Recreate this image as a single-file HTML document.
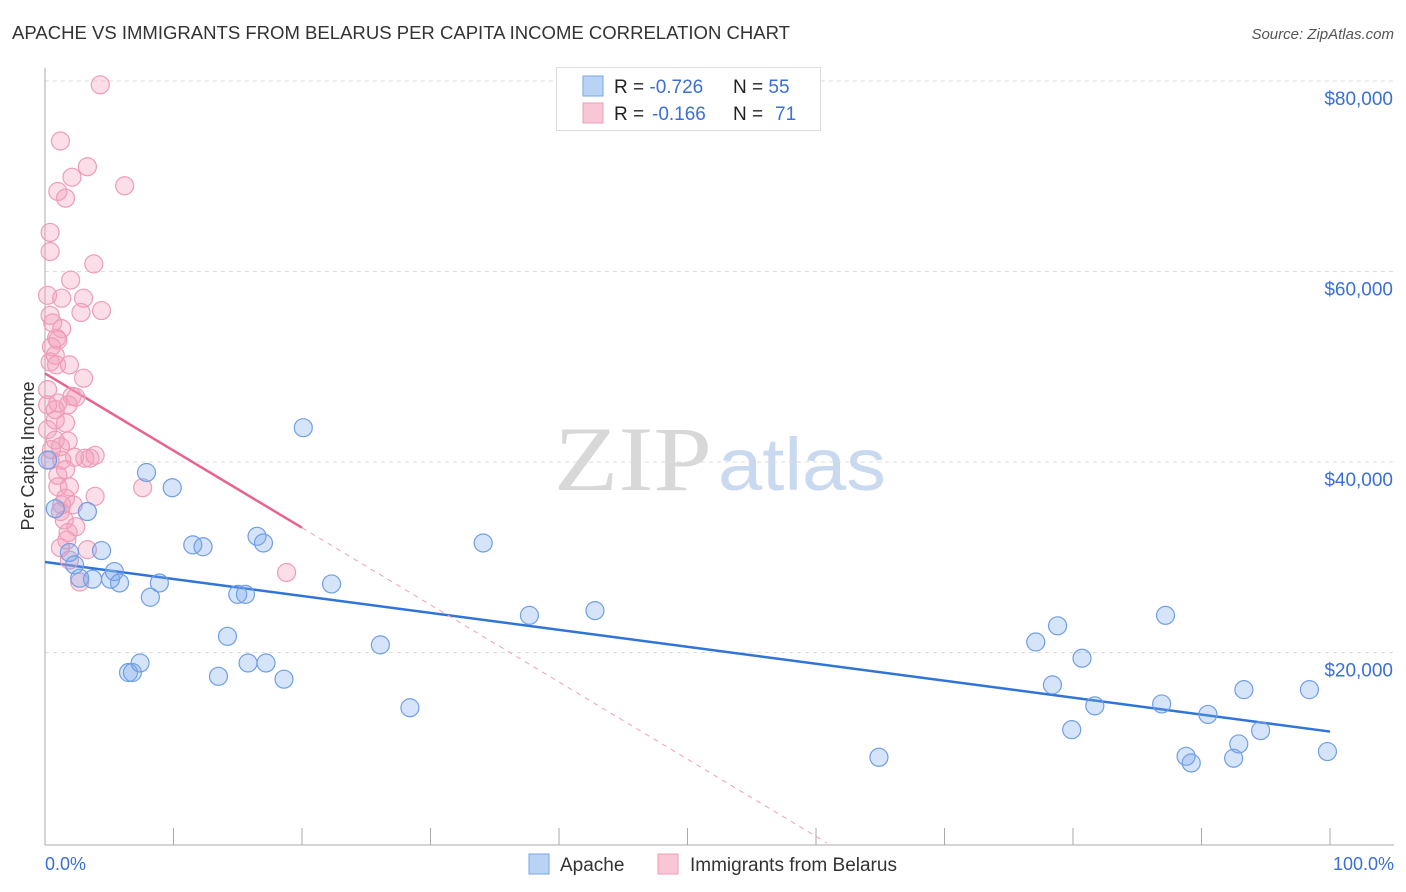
<!DOCTYPE html>
<html><head><meta charset="utf-8"><style>
body{margin:0;background:#fff;font-family:"Liberation Sans",sans-serif;}
#wrap{position:relative;width:1406px;height:892px;overflow:hidden;}
</style></head><body>
<div id="wrap">
<svg id="chart" width="1406" height="892" xmlns="http://www.w3.org/2000/svg">
<text x="12" y="39" font-size="18" fill="#333" textLength="778" lengthAdjust="spacingAndGlyphs">APACHE VS IMMIGRANTS FROM BELARUS PER CAPITA INCOME CORRELATION CHART</text>
<text x="1394" y="39" font-size="15" fill="#555" font-style="italic" text-anchor="end">Source: ZipAtlas.com</text>
<text x="712" y="490" font-size="92" fill="#d8d8d8" text-anchor="end" font-family="Liberation Serif,serif" textLength="158" lengthAdjust="spacingAndGlyphs">ZIP</text>
<text x="718" y="490" font-size="74" fill="#c9d9ef" textLength="168" lengthAdjust="spacingAndGlyphs">atlas</text>
<g id="grid"></g><g id="axes"></g><g id="trend"></g><g id="pts"></g>
<text transform="translate(34,456) rotate(-90)" font-size="18" fill="#333" text-anchor="middle">Per Capita Income</text>
<text x="45" y="870" font-size="18" fill="#3a6fd8">0.0%</text>
<text x="1394" y="870" font-size="18" fill="#3a6fd8" text-anchor="end">100.0%</text>
<g>
<rect x="556.5" y="67.5" width="264" height="63" fill="#fff" stroke="#ddd"/>
<rect x="583" y="76" width="20" height="20" fill="#b9d3f5" stroke="#7aa4e6"/>
<rect x="583" y="103" width="20" height="20" fill="#f9c6d6" stroke="#ee9cb8"/>
<text x="614" y="93" font-size="19" fill="#222">R = <tspan fill="#3a6fd8">-0.726</tspan><tspan x="733">N = </tspan><tspan fill="#3a6fd8">55</tspan></text>
<text x="614" y="120" font-size="19" fill="#222">R = <tspan x="652" fill="#3a6fd8">-0.166</tspan><tspan x="733">N = </tspan><tspan x="775" fill="#3a6fd8">71</tspan></text>
</g>
<g>
<rect x="529" y="854" width="20" height="20" fill="#b9d3f5" stroke="#7aa4e6"/>
<text x="560" y="871" font-size="19" fill="#333">Apache</text>
<rect x="658" y="854" width="20" height="20" fill="#f9c6d6" stroke="#ee9cb8"/>
<text x="690" y="871" font-size="19" fill="#333">Immigrants from Belarus</text>
</g>
</svg>
</div>
<script>
const yTicks=[20000,40000,60000,80000];
const yTickLabels=["$20,000","$40,000","$60,000","$80,000"];
const apacheX=[0.2,0.8,3.3,4.4,1.9,2.3,2.7,3.7,5.1,5.4,5.8,7.9,9.9,8.2,8.9,11.5,12.3,16.5,17.0,14.2,15.0,15.6,13.5,15.8,17.2,18.6,6.5,6.8,7.4,20.1,22.3,26.1,28.4,34.1,37.7,42.8,64.9,77.1,78.8,80.7,78.4,79.9,81.7,87.2,86.9,88.8,89.2,90.5,92.5,92.9,93.3,94.6,98.4,99.8];
const apacheY=[40200,35100,34800,30700,30500,29200,27800,27700,27700,28500,27300,38900,37300,25800,27300,31300,31100,32200,31500,21700,26100,26100,17500,18900,18900,17200,17900,17900,18900,43600,27200,20800,14200,31500,23900,24400,9000,21100,22800,19400,16600,11900,14400,23900,14600,9100,8400,13500,8900,10400,16100,11800,16100,9600];
const belX=[4.3,1.2,3.3,2.1,1.0,1.6,6.2,0.4,0.4,3.8,2.0,0.2,1.3,3.0,2.8,4.4,0.4,0.6,1.3,0.9,0.5,0.8,0.4,1.0,3.0,0.2,2.1,2.4,1.0,1.8,0.8,1.6,0.2,0.8,1.8,1.2,2.3,3.1,3.5,3.9,1.3,0.4,1.0,1.9,3.9,1.6,1.3,1.2,2.4,1.8,1.7,1.2,3.3,1.9,2.7,7.6,18.8,1.0,1.6,0.8,0.5,1.5,2.2,0.9,0.2,1.9];
const belY=[79600,73700,71000,69900,68400,67700,69000,64100,62100,60800,59100,57500,57200,57200,55700,55900,55400,54600,54000,53000,52100,51200,50500,52800,48800,47600,46900,46800,46200,46000,45500,44100,43400,42300,42200,41600,40500,40400,40400,40700,40200,40200,37400,37400,36400,36200,35500,34800,33200,32600,31800,31000,30800,29700,27400,37300,28400,38600,39200,44400,41300,33900,35500,50200,46000,50200];
const apacheTrend=[29500,11700];
const belTrend=[49300,-810];
const NS="http://www.w3.org/2000/svg";
const X0=45,X1=1330,Y0=843,YPER=190.5/20000;
const sx=v=>X0+(X1-X0)*v/100;
const sy=v=>Y0-v*YPER;
function mk(tag,attrs,parent){const e=document.createElementNS(NS,tag);for(const k in attrs)e.setAttribute(k,attrs[k]);document.getElementById(parent).appendChild(e);return e;}
yTicks.forEach((t,i)=>{
 const l=mk('line',{x1:X0,x2:1394,y1:sy(t),y2:sy(t),stroke:'#ddd','stroke-dasharray':'4,4'},'grid');
 
 
 const tx=mk('text',{x:1393,y:sy(t)+24,'font-size':19,fill:'#3a6fd8','text-anchor':'end'},'grid');
 tx.textContent=yTickLabels[i];
 
 
});
const ax=mk('line',{x1:X0,x2:X0,y1:68,y2:845,stroke:'#aaa'},'axes');


const bx=mk('line',{x1:X0,x2:1394,y1:845,y2:845,stroke:'#aaa'},'axes');


for(let i=0;i<=10;i++){
 const t=mk('line',{x1:sx(i*10),x2:sx(i*10),y1:828,y2:845,stroke:'#aaa'},'axes');
 
 
}
function pts(xs,ys,fill,stroke,name){
 xs.forEach((x,i)=>{
  const c=mk('circle',{cx:sx(x),cy:sy(ys[i]),r:9,fill:fill,stroke:stroke,'stroke-width':1.2},'pts');
  
  
 });
}
pts(belX,belY,'rgba(243,160,188,0.35)','#ee9cb8','belarus-point');
pts(apacheX,apacheY,'rgba(120,165,235,0.3)','#6f9fe4','apache-point');
const at=mk('line',{x1:sx(0),y1:sy(apacheTrend[0]),x2:sx(100),y2:sy(apacheTrend[1]),stroke:'#2f74d8','stroke-width':2.5},'trend');


const bEnd=-belTrend[0]/belTrend[1];
const bs=mk('line',{x1:sx(0),y1:sy(belTrend[0]),x2:sx(20),y2:sy(belTrend[0]+belTrend[1]*20),stroke:'#e8648f','stroke-width':2.5},'trend');


const bd=mk('line',{x1:sx(20),y1:sy(belTrend[0]+belTrend[1]*20),x2:sx(bEnd),y2:sy(0),stroke:'#eea0b8','stroke-width':1,'stroke-dasharray':'5,5'},'trend');


</script>
</body></html>
